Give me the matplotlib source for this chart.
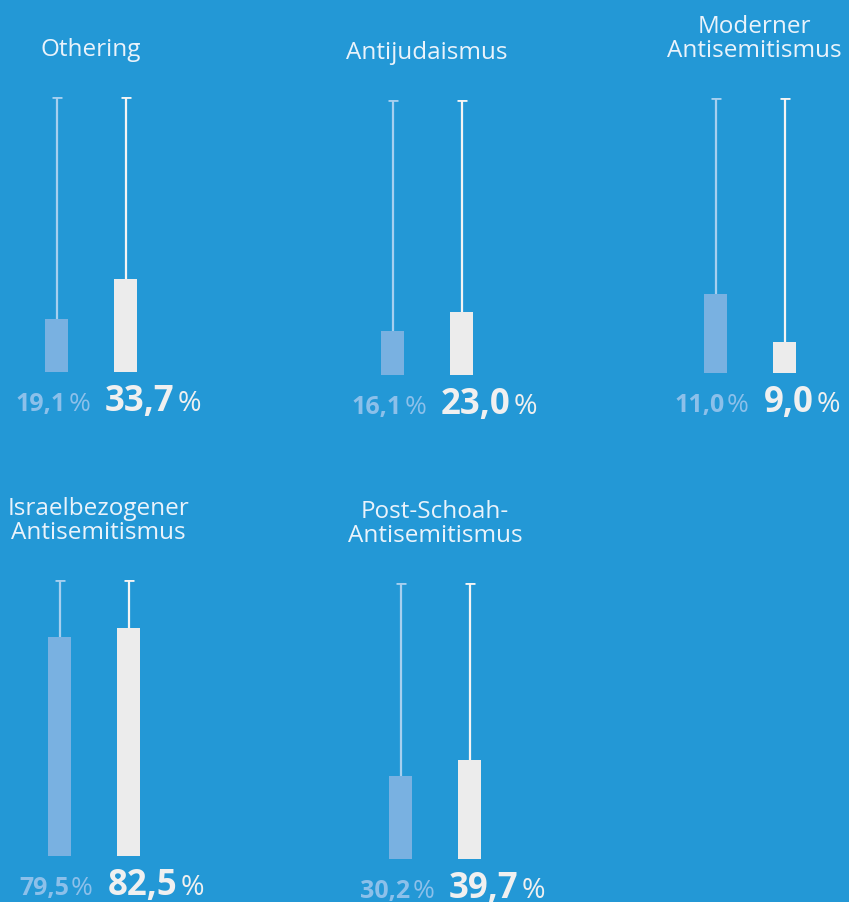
import matplotlib
matplotlib.use("Agg")
import matplotlib.pyplot as plt

plt.rcParams["font.family"] = ["Open Sans", "DejaVu Sans"]

# data
titles = ["Othering", "Antijudaismus", "Moderner\nAntisemitismus",
          "Israelbezogener\nAntisemitismus", "Post-Schoah-\nAntisemitismus"]
# bar heights as drawn (the drawing does not always match the printed numbers)
heights_a = [19.1, 16.1, 28.6, 79.5, 30.2]
heights_b = [33.7, 23.0, 11.3, 82.5, 36.0]
labels_a = ["19,1", "16,1", "11,0", "79,5", "30,2"]
labels_b = ["33,7", "23,0", "9,0", "82,5", "39,7"]

BG = "#2398D6"
BAR_A = "#79B1E1"
BAR_B = "#ECECEC"
LINE_A = "#A6CFEF"
LINE_B = "#F4F4F4"
TXT_A = "#8CC0EA"
TXT_B = "#F0F0F0"
TITLE = "#EAF3FB"

W, H = 849, 902
fig = plt.figure(figsize=(W / 100, H / 100), dpi=100, facecolor=BG)

# panel placement in pixels: first bar centre, axis bottom, axis top
panels = [(56.5, 372, 97), (392.5, 375, 100), (715.5, 373, 98),
          (59.5, 856, 580), (400.5, 859, 583)]
title_dx = [0, 0, 4, 4, 0]
STEP = 69.0      # px between the two bars
BAR_W = 23 / STEP

fig.canvas.draw()
renderer = fig.canvas.get_renderer()


def px(x, y):
    return x / W, 1 - y / H


for i, (cx, bot, top) in enumerate(panels):
    left = cx - 0.6 * STEP
    ax = fig.add_axes([left / W, 1 - bot / H, 2.2 * STEP / W, (bot - top) / H])
    ax.set_xlim(-0.6, 1.6)
    ax.set_ylim(0, 100)
    ax.axis("off")

    for x, h, bc, lc in [(0, heights_a[i], BAR_A, LINE_A), (1, heights_b[i], BAR_B, LINE_B)]:
        ax.plot([x, x], [h, 100], color=lc, lw=1.6, solid_capstyle="butt", zorder=1)
        ax.plot([x], [100], marker="_", markersize=7, mew=2, color=lc, zorder=1)
        ax.bar(x, h, width=BAR_W, color=bc, zorder=2)

    mid = cx + STEP / 2
    # title above the panel
    fig.text(*px(mid + title_dx[i], top - 41), titles[i], ha="center", va="baseline",
             ma="center", fontsize=17.5, color=TITLE, linespacing=1.0)

    base = bot + 39
    # light label, right aligned just left of the midpoint
    pa = fig.text(*px(mid - 1, base), "%", ha="right", va="baseline",
                  fontsize=19, color=TXT_A)
    ext = pa.get_window_extent(renderer)
    fig.text(*px(ext.x0 - 2, base), labels_a[i], ha="right", va="baseline",
             fontsize=18, fontweight="bold", color=TXT_A)
    # big label, left aligned right of the midpoint
    nb = fig.text(*px(mid + 14, base), labels_b[i], ha="left", va="baseline",
                  fontsize=25, fontweight="bold", color=TXT_B)
    ext = nb.get_window_extent(renderer)
    fig.text(*px(ext.x1 + 3, base), "%", ha="left", va="baseline",
             fontsize=20.5, color=TXT_B)

fig.savefig("out.png", dpi=100, facecolor=BG)
